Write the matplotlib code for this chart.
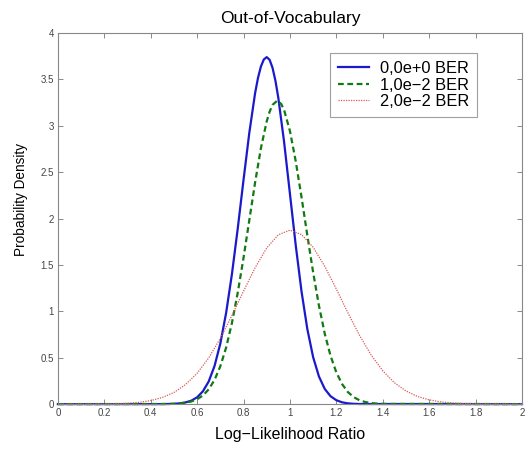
import matplotlib
matplotlib.use("Agg")
import matplotlib.pyplot as plt

plt.rcParams['font.family'] = ['Liberation Sans', 'DejaVu Sans']

# values
llr_blue = [0.0, 0.45, 0.475, 0.5, 0.525, 0.55, 0.575, 0.6, 0.625, 0.65, 0.675, 0.7,
            0.725, 0.75, 0.775, 0.8, 0.825, 0.85, 0.8625, 0.875, 0.8875, 0.9, 0.9125,
            0.925, 0.9375, 0.95, 0.975, 1.0, 1.025, 1.05, 1.075, 1.1, 1.125, 1.15,
            1.175, 1.2, 1.225, 1.25, 1.275, 1.3, 2.0]
pdf_blue = [0.0, 0.0, 0.001, 0.003, 0.008, 0.018, 0.037, 0.073, 0.138, 0.244, 0.41, 0.652,
            0.982, 1.40, 1.89, 2.416, 2.925, 3.353, 3.517, 3.639, 3.715, 3.74, 3.711,
            3.625, 3.486, 3.301, 2.823, 2.268, 1.712, 1.214, 0.809, 0.506, 0.298, 0.164,
            0.085, 0.042, 0.019, 0.008, 0.003, 0.001, 0.0]

llr_green = [0.0, 0.45, 0.5, 0.525, 0.55, 0.575, 0.6, 0.625, 0.65, 0.675, 0.7, 0.725,
             0.75, 0.775, 0.8, 0.825, 0.85, 0.875, 0.9, 0.9125, 0.925, 0.945, 0.9625,
             0.975, 1.0, 1.025, 1.05, 1.075, 1.1, 1.125, 1.15, 1.175, 1.2, 1.225, 1.25,
             1.275, 1.3, 1.325, 1.35, 1.375, 1.4, 2.0]
pdf_green = [0.0, 0.001, 0.003, 0.007, 0.015, 0.028, 0.052, 0.093, 0.159, 0.26, 0.407, 0.609,
             0.873, 1.199, 1.576, 1.983, 2.39, 2.759, 3.048, 3.152, 3.225, 3.27, 3.235,
             3.169, 2.944, 2.618, 2.23, 1.818, 1.42, 1.062, 0.76, 0.521, 0.342, 0.215,
             0.129, 0.075, 0.041, 0.022, 0.011, 0.005, 0.002, 0.0]

llr_red = [0.0, 0.2, 0.25, 0.3, 0.35, 0.4, 0.45, 0.5, 0.55, 0.6, 0.65, 0.7, 0.75, 0.8,
           0.85, 0.9, 0.95, 1.0, 1.05, 1.1, 1.15, 1.2, 1.25, 1.3, 1.35, 1.4, 1.45,
           1.5, 1.55, 1.6, 1.65, 1.7, 1.75, 1.8, 2.0]
pdf_red = [0.0, 0.002, 0.004, 0.009, 0.019, 0.038, 0.071, 0.125, 0.21, 0.332, 0.498, 0.708,
           0.954, 1.217, 1.47, 1.683, 1.825, 1.875, 1.827, 1.691, 1.486, 1.24, 0.983,
           0.74, 0.529, 0.359, 0.231, 0.142, 0.082, 0.046, 0.024, 0.012, 0.006, 0.003, 0.0]

labels = ['0,0e+0 BER', '1,0e\u22122 BER', '2,0e\u22122 BER']
x_ticks = [0, 0.2, 0.4, 0.6, 0.8, 1, 1.2, 1.4, 1.6, 1.8, 2]
x_tick_labels = ['0', '0.2', '0.4', '0.6', '0.8', '1', '1.2', '1.4', '1.6', '1.8', '2']
y_ticks = [0, 0.5, 1, 1.5, 2, 2.5, 3, 3.5, 4]
y_tick_labels = ['0', '0.5', '1', '1.5', '2', '2.5', '3', '3.5', '4']

fig = plt.figure(figsize=(5.31, 4.49), dpi=100)
ax = fig.add_axes([0.109, 0.1, 0.874, 0.8265])

ax.plot(llr_blue, pdf_blue, color='#1a1acc', lw=1.6, label=labels[0], clip_on=False)
ax.plot(llr_green, pdf_green, color='#127a12', lw=1.6, ls=(0, (2.6, 1.6)),
        label=labels[1], clip_on=False)
ax.plot(llr_red, pdf_red, color='#d85a5a', lw=0.9, ls=(0, (1, 1)),
        label=labels[2], clip_on=False)

ax.set_xlim(0, 2)
ax.set_ylim(0, 4)
ax.set_xticks(x_ticks)
ax.set_xticklabels(x_tick_labels)
ax.set_yticks(y_ticks)
ax.set_yticklabels(y_tick_labels)
ax.tick_params(direction='in', length=3.5, width=0.6, color='#777777',
               labelsize=7, labelcolor='#444444', top=True, right=True, pad=3)
for s in ax.spines.values():
    s.set_color('#888888')
    s.set_linewidth(0.8)

ax.set_title('Out-of-Vocabulary', fontsize=12.5, pad=7)
ax.set_xlabel('Log\u2212Likelihood Ratio', fontsize=11.5, labelpad=6)
ax.set_ylabel('Probability Density', fontsize=9.8, labelpad=9)
ax.yaxis.label.set_y(0.55)

leg = ax.legend(loc='upper left', bbox_to_anchor=(0.586, 0.947), fontsize=11.8,
                frameon=True, fancybox=False, edgecolor='#888888',
                handlelength=1.9, handletextpad=0.65, labelspacing=0.1,
                borderpad=0.5, borderaxespad=0)
leg.get_frame().set_linewidth(0.8)

fig.savefig('out.png', dpi=100)
